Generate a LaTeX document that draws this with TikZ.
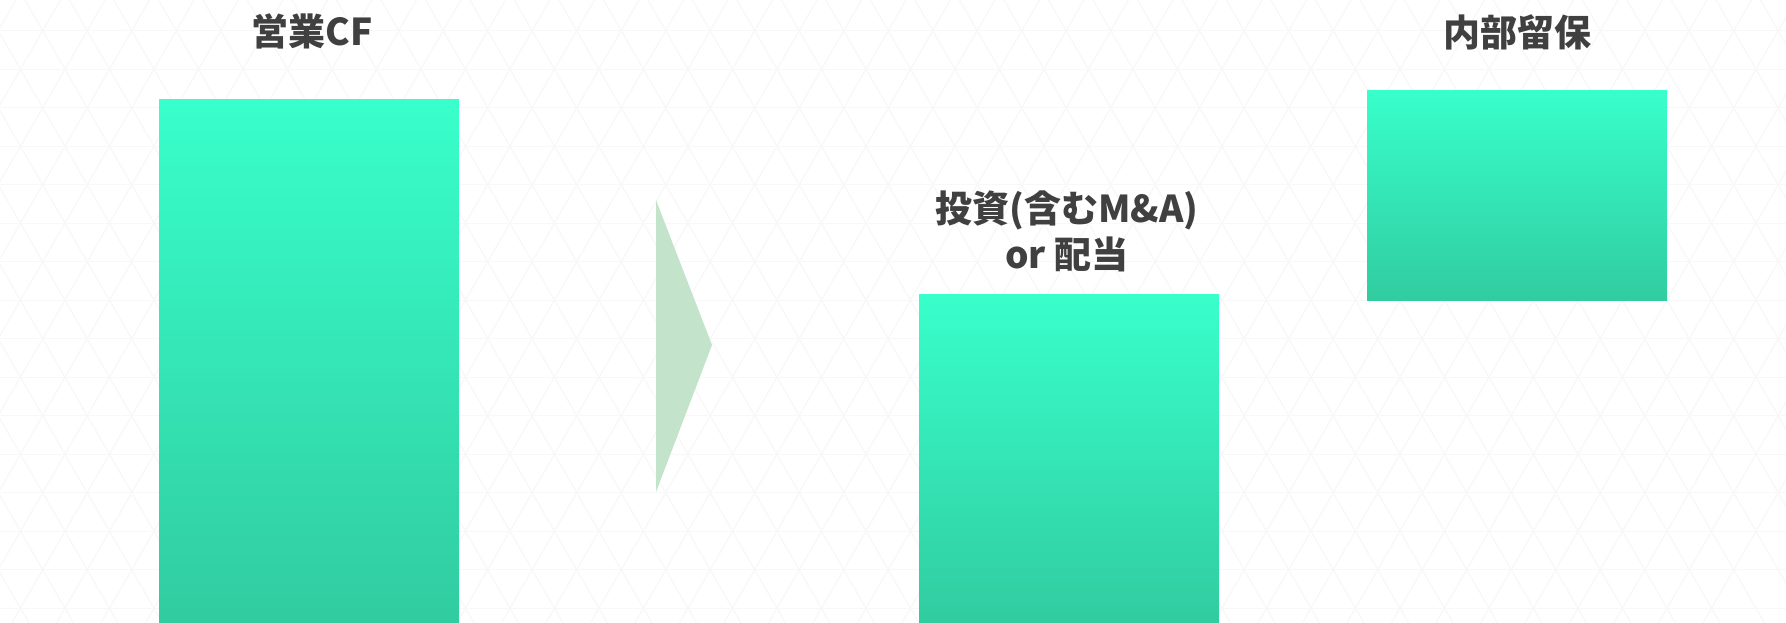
\documentclass[tikz,border=0pt]{standalone}
\usepackage{fontspec}
\newfontfamily\jpfont{Noto Sans CJK JP}
\definecolor{bartop}{HTML}{38FFCB}
\definecolor{barbot}{HTML}{31CCA0}
\definecolor{txt}{HTML}{404040}
\definecolor{tri}{HTML}{C3E4CB}
\definecolor{lattice}{HTML}{F8F8F8}
\tikzset{
  bar/.style={rectangle, inner sep=0pt, outer sep=0pt, minimum width=300pt, top color=bartop, bottom color=barbot, anchor=north west},
  label/.style={text=txt, font=\jpfont\bfseries\fontsize{37}{46}\selectfont, align=center, inner sep=0pt},
  grid line/.style={draw=lattice, line width=1.3pt}
}
\begin{document}
\begin{tikzpicture}[x=1pt,y=-1pt]
\fill[white] (0,0) rectangle (1786,622);
\useasboundingbox (0,0) rectangle (1786,622);
% background lattice
\begin{scope}
\clip (0,0) rectangle (1786,622);
\foreach \k in {-1,...,16} {
  \draw[grid line] (0,{30.7+38.5*\k}) -- (1786,{30.7+38.5*\k});
}
\foreach \m in {-20,...,45} {
  \draw[grid line] ({42.7+44.5*\m-22.25},-7.8) -- ({42.7+44.5*\m+22.25*17},{30.7+38.5*17});
  \draw[grid line] ({42.7+44.5*\m+22.25},-7.8) -- ({42.7+44.5*\m-22.25*17},{30.7+38.5*17});
}
\end{scope}
% bars
\node[bar, minimum height=523pt] (cf) at (159,99) {};
\node[bar, minimum height=328pt] (inv) at (919,294) {};
\node[bar, minimum height=210pt] (ret) at (1367,90) {};
% labels
\node[label] (cflabel) at (312,31) {営業CF};
\node[label] (invlabel) at (1067,231) {投資(含むM\&A)\\or 配当};
\node[label] (retlabel) at (1517,32) {内部留保};
% arrow triangle
\fill[tri] (656,200) -- (712,345) -- (656,492) -- cycle;
\end{tikzpicture}
\end{document}
